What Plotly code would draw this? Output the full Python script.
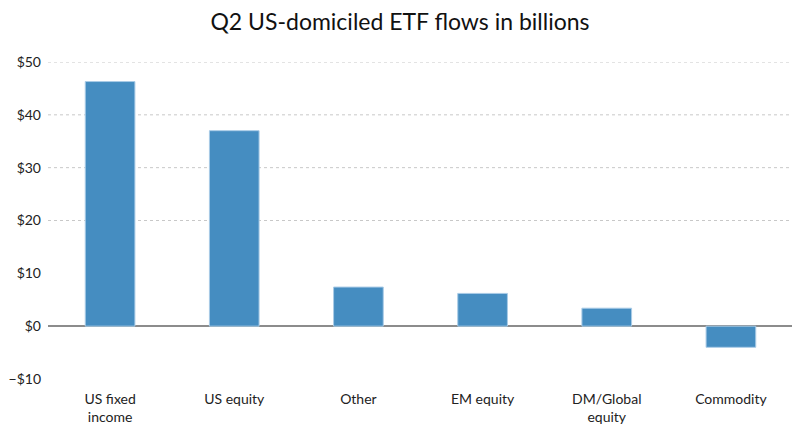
import plotly.graph_objects as go

categories = ["US fixed<br>income", "US equity", "Other", "EM equity", "DM/Global<br>equity", "Commodity"]
flows = [46.3, 37.0, 7.4, 6.2, 3.4, -4.0]

y_ticks = [-10, 0, 10, 20, 30, 40, 50]
y_labels = ["\u2212$10", "$0", "$10", "$20", "$30", "$40", "$50"]
grid_vals = [20, 30, 40, 50]

fig = go.Figure()
fig.add_trace(
    go.Bar(
        x=categories,
        y=flows,
        width=0.4,
        marker=dict(color="#458DC1", line=dict(color="#A9CBE6", width=1)),
        hoverinfo="x+y",
    )
)

# dotted gridlines (the reference has none at $10)
for g in grid_vals:
    fig.add_shape(
        type="line", xref="paper", yref="y", x0=0, x1=1, y0=g, y1=g,
        line=dict(color="#C8C8C8", width=1, dash="dot"), layer="below",
    )

# page body adds an 8px offset, margins compensate for it
fig.update_layout(
    width=800,
    height=442,
    margin=dict(l=40, r=15, t=54, b=71, autoexpand=False),
    paper_bgcolor="white",
    plot_bgcolor="white",
    font=dict(family="Lato, Open Sans, sans-serif", color="#222222", size=14),
    title=dict(
        text="Q2 US-domiciled ETF flows in billions",
        x=0.49, xanchor="center", y=0.968, yanchor="middle",
        font=dict(size=23, family="Lato, sans-serif", color="#111111"),
    ),
    showlegend=False,
    bargap=0.6,
)
fig.update_xaxes(
    showgrid=False, showline=False, ticks="", automargin=False,
    ticklabelstandoff=10, tickfont=dict(size=14),
)
fig.update_yaxes(
    range=[-10, 50], tickvals=y_ticks, ticktext=y_labels, automargin=False,
    showgrid=False, zeroline=True, zerolinecolor="#8C8C8C", zerolinewidth=1.5,
    ticklabelstandoff=6, tickfont=dict(size=14),
)

fig.write_html("out.html")
